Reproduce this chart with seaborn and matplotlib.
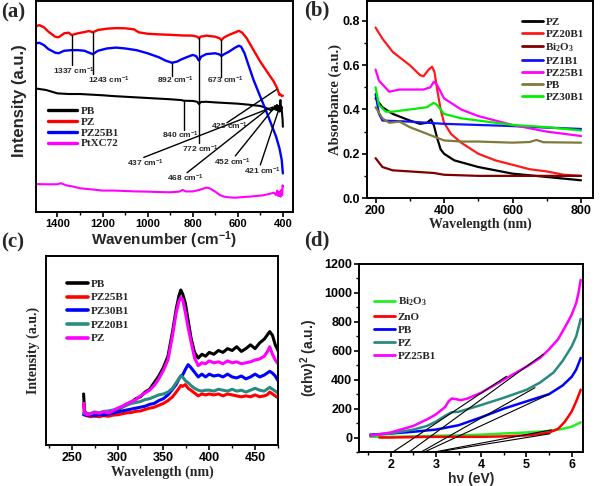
import numpy as np
import pandas as pd
import matplotlib
matplotlib.use("Agg")
import matplotlib.pyplot as plt
from matplotlib.ticker import MultipleLocator, NullLocator
import seaborn as sns

sns.set_style("ticks")
plt.rcParams["font.family"] = ["Liberation Sans", "DejaVu Sans"]
plt.rcParams["font.weight"] = "bold"
plt.rcParams["axes.labelweight"] = "bold"
plt.rcParams["mathtext.default"] = "regular"

SANS = "Liberation Sans"
SERIF = "Liberation Serif"

# ---------------- (a) FTIR ----------------
ftir_pz_x = [1500, 1480, 1460, 1440, 1410, 1395, 1370, 1350, 1337, 1310, 1280, 1260, 1243, 1220, 1180, 1140,
             1100, 1060, 1040, 1000, 950, 900, 850, 800, 780, 772, 765, 740, 700, 680, 673, 660, 640, 610,
             595, 580, 560, 530, 500, 470, 440, 425, 420, 415, 410, 405, 400]
ftir_pz_y = [88.3, 89.0, 88.0, 85.9, 83.5, 83.2, 85.1, 85.4, 84.3, 85.1, 85.7, 86.2, 85.6, 86.7, 87.3, 87.6,
             87.5, 87.0, 85.6, 84.9, 84.6, 84.4, 84.1, 84.0, 83.5, 82.7, 83.5, 84.0, 83.5, 82.7, 81.9, 83.2,
             84.3, 85.6, 86.3, 85.4, 82.7, 77.1, 71.6, 66.8, 62.1, 58.9, 57.3, 55.7, 56.0, 55.2, 55.4]
ftir_pz25_x = [1500, 1480, 1460, 1440, 1410, 1395, 1370, 1337, 1310, 1280, 1260, 1243, 1220, 1180, 1140, 1100,
               1050, 1000, 950, 920, 892, 870, 850, 820, 800, 785, 772, 762, 740, 700, 680, 673, 660, 640,
               610, 595, 585, 570, 550, 530, 500, 470, 450, 430, 415, 405, 400]
ftir_pz25_y = [80.3, 80.6, 79.5, 77.6, 75.9, 75.6, 76.8, 77.1, 77.1, 76.8, 75.9, 75.2, 76.8, 77.9, 78.3, 77.9,
               77.1, 75.6, 73.7, 72.1, 71.1, 71.6, 72.7, 74.0, 74.8, 74.3, 72.1, 74.0, 75.2, 75.6, 75.0, 74.3,
               75.2, 76.3, 78.4, 79.2, 78.7, 75.6, 69.2, 62.9, 54.9, 47.0, 41.4, 35.9, 30.3, 24.8, 18.4]
ftir_pb_x = [1500, 1450, 1400, 1350, 1300, 1250, 1200, 1150, 1100, 1050, 1000, 950, 900, 850, 840, 800, 780,
             772, 764, 740, 700, 650, 600, 550, 500, 480, 460, 450, 445, 440, 435, 430, 426, 422, 418, 414,
             411, 409, 406, 403, 401, 400]
ftir_pb_y = [58.9, 58.1, 56.5, 56.2, 56.2, 55.9, 55.6, 55.2, 54.9, 54.6, 54.3, 54.0, 53.7, 53.3, 53.0, 52.9,
             52.5, 51.4, 52.4, 52.5, 52.2, 51.9, 51.6, 51.1, 50.5, 49.8, 48.9, 48.3, 49.8, 48.9, 50.5, 48.6,
             51.0, 48.3, 50.5, 47.8, 53.3, 48.6, 50.2, 46.2, 43.8, 40.6]
ftir_pt_x = [1500, 1450, 1400, 1385, 1360, 1330, 1300, 1250, 1200, 1150, 1100, 1050, 1000, 950, 900, 860, 845,
             830, 800, 770, 740, 725, 700, 680, 660, 640, 610, 580, 550, 520, 490, 460, 440, 430, 425, 420,
             415, 410, 406, 403, 401, 400]
ftir_pt_y = [13.3, 13.2, 13.2, 13.7, 12.7, 12.1, 11.3, 10.8, 10.2, 10.2, 10.0, 9.8, 9.7, 9.5, 9.4, 9.7, 10.5,
             9.8, 9.8, 10.5, 11.6, 11.3, 9.7, 8.1, 7.3, 7.0, 6.8, 7.1, 7.3, 7.6, 7.9, 8.6, 9.2, 8.1, 10.2,
             7.6, 9.7, 7.3, 10.5, 8.1, 12.7, 12.1]
ftir_names = ["PB", "PZ", "PZ25B1", "PtXC72"]

# vertical peak markers: wavenumber, line top, line bottom, label x, label y
vpeak_wn = [1337, 1243, 892, 673, 840, 772]
vpeak_top = [84.3, 85.6, 71.1, 81.9, 53.0, 82.7]
vpeak_bot = [70.0, 65.7, 64.8, 64.1, 39.0, 32.7]
vpeak_lx = [1418, 1263, 958, 736, 938, 847]
vpeak_ly = [66.8, 62.9, 62.9, 62.9, 36.7, 30.0]
# slanted peak markers: label, label pos, line start, line end
speak_wn = [425, 437, 468, 452, 421]
speak_lx = [719, 1093, 913, 707, 574]
speak_ly = [41.0, 23.2, 16.0, 23.8, 19.2]
speak_x0 = [648, 1017, 825, 611, 500]
speak_y0 = [42.5, 26.0, 18.7, 26.7, 22.4]
speak_x1 = [427, 449, 463, 441, 415]
speak_y1 = [58.4, 49.8, 49.4, 49.4, 49.8]

# ---------------- (b) UV-vis absorbance ----------------
uv_pz_x = [200, 220, 250, 300, 330, 350, 362, 370, 380, 390, 400, 430, 500, 600, 700, 800]
uv_pz_y = [0.45, 0.41, 0.38, 0.35, 0.335, 0.34, 0.355, 0.33, 0.27, 0.22, 0.20, 0.17, 0.14, 0.11, 0.095, 0.08]
uv_pz20_x = [200, 220, 250, 300, 330, 340, 355, 365, 372, 380, 390, 400, 420, 450, 500, 550, 600, 650, 700, 750, 800]
uv_pz20_y = [0.77, 0.72, 0.66, 0.60, 0.555, 0.55, 0.58, 0.593, 0.57, 0.49, 0.40, 0.34, 0.29, 0.25, 0.20, 0.17,
             0.15, 0.13, 0.12, 0.105, 0.10]
uv_bi_x = [200, 220, 250, 300, 350, 370, 400, 500, 600, 700, 800]
uv_bi_y = [0.18, 0.14, 0.125, 0.12, 0.115, 0.113, 0.105, 0.10, 0.10, 0.10, 0.10]
uv_pz1_x = [200, 210, 220, 300, 400, 500, 600, 700, 800]
uv_pz1_y = [0.47, 0.38, 0.35, 0.345, 0.335, 0.33, 0.325, 0.318, 0.312]
uv_pz25_x = [200, 210, 240, 270, 300, 340, 360, 370, 380, 400, 450, 500, 600, 700, 800]
uv_pz25_y = [0.58, 0.53, 0.48, 0.49, 0.49, 0.49, 0.50, 0.525, 0.51, 0.45, 0.40, 0.37, 0.33, 0.30, 0.28]
uv_pb_x = [200, 220, 240, 270, 300, 350, 400, 450, 500, 600, 650, 670, 690, 800]
uv_pb_y = [0.41, 0.36, 0.34, 0.345, 0.32, 0.29, 0.26, 0.255, 0.255, 0.25, 0.253, 0.262, 0.252, 0.25]
uv_pz30_x = [200, 210, 230, 250, 300, 350, 370, 380, 400, 450, 500, 600, 700, 800]
uv_pz30_y = [0.50, 0.42, 0.39, 0.39, 0.40, 0.41, 0.43, 0.42, 0.38, 0.36, 0.35, 0.33, 0.32, 0.305]

# ---------------- (c) PL spectra ----------------
pl_x = [263, 264, 267, 270, 275, 280, 285, 290, 295, 300, 305, 310, 315, 320, 325, 330, 335, 340, 345, 350,
        355, 360, 364, 367, 369, 371, 374, 377, 380, 384, 388, 392, 396, 400, 405, 410, 415, 420, 425, 430,
        435, 440, 445, 450, 455, 460, 463, 466, 469, 472, 475, 478]
pl_pb = [27, 18, 16, 15.5, 16.5, 15.8, 16.8, 15.6, 17.5, 18.5, 20, 21.5, 22.5, 24.5, 25.5, 28, 29.5, 33,
         36.5, 41, 47, 60, 72, 79, 82, 80, 75, 66, 57, 49, 46, 48, 47, 49, 48, 50, 49, 51, 50, 52, 49.5, 51,
         53, 51, 54, 56, 58, 60, 58, 53, 50, 46]
pl_pz25 = [22, 16, 15.5, 15, 15.3, 15, 15.5, 15.2, 15.8, 16, 16.5, 17, 17.2, 17.8, 18, 18.8, 19.5, 20, 21,
           22, 23.5, 25.5, 28, 30, 31.5, 31, 32, 30, 29, 27.5, 26, 27, 26.5, 27, 26.5, 27, 26, 27, 26.5, 26,
           25.5, 26, 25.5, 26.5, 25.5, 26, 26.5, 28, 27, 26, 25, 26]
pl_pz30 = [16, 16, 15.5, 16, 15.5, 16.2, 15.8, 16.5, 16.8, 17.5, 18, 18.5, 19, 19.5, 20, 20.5, 21.5, 22,
           23.5, 24.5, 26.5, 29.5, 32, 35, 36.5, 37, 40, 42.5, 41, 38.5, 36, 37.5, 36, 37.5, 36.5, 37, 36,
           37.5, 36, 35.5, 36.5, 35, 36, 37.5, 36, 37, 38, 39, 38, 36.5, 34, 33]
pl_pz20 = [17, 16.5, 16.8, 16.5, 17.5, 17, 17.8, 18, 18.5, 19.2, 20, 21, 22, 22.5, 23, 24, 24.5, 25.5,
           26.5, 27, 28, 30, 33, 35, 36.5, 36, 34, 33, 31.5, 30, 29, 28.5, 29, 29, 28.5, 29.5, 29, 28.5,
           29.5, 28.5, 29, 28, 29, 30, 29, 28.5, 29.5, 30.5, 29.5, 28.5, 27.5, 25.5]
pl_pz = [22, 17, 16, 16.5, 17.2, 16.8, 17.5, 17, 18, 19.5, 20.5, 21.8, 23, 24, 26, 27.5, 29, 31.5, 35,
         39.5, 45, 58, 70, 76, 78, 77, 70, 62, 55, 46, 42, 43.5, 43, 44.5, 43.5, 44, 43, 44.5, 43.5, 44, 43,
         43.5, 44, 45, 45.5, 47, 49, 52, 48, 45, 43, 39]

# ---------------- (d) Tauc plot ----------------
tauc_bi_x = [1.55, 2.0, 2.5, 3.0, 3.5, 4.0, 4.5, 5.0, 5.5, 5.8, 6.0, 6.1, 6.2]
tauc_bi_y = [5, 5, 8, 12, 15, 20, 28, 35, 45, 60, 75, 90, 105]
tauc_zno_x = [1.75, 2.0, 2.5, 3.0, 3.5, 4.0, 4.5, 5.0, 5.3, 5.5, 5.7, 5.85, 6.0, 6.1, 6.2]
tauc_zno_y = [0, 0, 3, 5, 5, 5, 8, 15, 25, 35, 60, 110, 180, 250, 330]
tauc_pb_x = [1.55, 2.0, 2.5, 3.0, 3.5, 4.0, 4.5, 5.0, 5.5, 5.8, 6.0, 6.1, 6.2]
tauc_pb_y = [20, 28, 40, 55, 85, 140, 200, 250, 300, 360, 420, 470, 550]
tauc_pz_x = [1.55, 2.0, 2.5, 2.8, 3.0, 3.2, 3.35, 3.5, 4.0, 4.5, 5.0, 5.3, 5.6, 5.8, 6.0, 6.1, 6.2]
tauc_pz_y = [15, 28, 55, 80, 110, 150, 175, 178, 225, 275, 330, 380, 450, 530, 630, 700, 820]
tauc_pz25_x = [1.55, 2.0, 2.5, 2.8, 3.0, 3.2, 3.28, 3.35, 3.45, 3.55, 3.7, 4.0, 4.5, 5.0, 5.3, 5.5, 5.7,
               5.9, 6.0, 6.1, 6.15, 6.2]
tauc_pz25_y = [12, 35, 80, 125, 160, 210, 250, 270, 265, 258, 270, 310, 400, 490, 550, 610, 680, 790, 850,
               930, 1000, 1090]
tan_x0 = [2.04, 2.40, 2.66, 2.73, 2.93, 2.99]
tan_y0 = [-102, -102, -102, -102, -102, -102]
tan_x1 = [4.56, 5.37, 5.19, 5.48, 5.55, 5.52]
tan_y1 = [424, 576, 345, 296, 53, 26]

# ================= figure =================
W, H = 600, 486
fig = plt.figure(figsize=(6, 4.86), dpi=100)


def box(l, t, r, b):
    return [l / W, 1 - b / H, (r - l) / W, (b - t) / H]


axA = fig.add_axes(box(36, 1, 293, 212))
axB = fig.add_axes(box(367, 1, 593, 198))
axC = fig.add_axes(box(46, 256, 278, 445))
axD = fig.add_axes(box(359, 264, 583, 452))

for ax in (axA, axB, axC, axD):
    for s in ax.spines.values():
        s.set_linewidth(1.4)
        s.set_color("black")
    ax.tick_params(which="major", direction="out", length=3.5, width=1.2, pad=1.5, colors="black")
    ax.tick_params(which="minor", direction="out", length=2, width=1.0, colors="black")


def line(ax, x, y, color, lw=1.5, label=None):
    sns.lineplot(x=x, y=y, ax=ax, color=color, lw=lw, label=label, legend=False, sort=False,
                 estimator=None)


# ---- (a)
line(axA, ftir_pb_x, ftir_pb_y, "black", 1.5, "PB")
line(axA, ftir_pz_x, ftir_pz_y, "#ff0000", 1.7, "PZ")
line(axA, ftir_pz25_x, ftir_pz25_y, "#0000ff", 1.7, "PZ25B1")
line(axA, ftir_pt_x, ftir_pt_y, "#ff00ff", 1.5, "PtXC72")
axA.set_xlim(1495, 355)
axA.set_ylim(0, 100.5)
axA.xaxis.set_major_locator(MultipleLocator(200))
axA.xaxis.set_minor_locator(MultipleLocator(100))
axA.yaxis.set_major_locator(NullLocator())
axA.tick_params(axis="x", labelsize=8)
axA.set_xlabel("Wavenumber (cm$^{-1}$)", fontsize=11, family=SANS, fontweight="bold")
axA.set_ylabel("Intensity (a.u.)", fontsize=12, family=SANS, fontweight="bold")
axA.xaxis.set_label_coords(0.5, -0.083)
axA.yaxis.set_label_coords(-0.035, 0.53)
for wn, yt, yb, lx, ly in zip(vpeak_wn, vpeak_top, vpeak_bot, vpeak_lx, vpeak_ly):
    axA.plot([wn, wn], [yt, yb], color="black", lw=1.0)
    axA.text(lx, ly, f"{wn} cm$^{{-1}}$", fontsize=6, family=SANS, fontweight="bold", ha="left", va="center")
for wn, lx, ly, x0, y0, x1, y1 in zip(speak_wn, speak_lx, speak_ly, speak_x0, speak_y0, speak_x1, speak_y1):
    axA.plot([x0, x1], [y0, y1], color="black", lw=1.0)
    axA.text(lx, ly, f"{wn} cm$^{{-1}}$", fontsize=6, family=SANS, fontweight="bold", ha="left", va="center")
legA = axA.legend(loc="upper left", bbox_to_anchor=(48 / W, 1 - 106 / H), bbox_transform=fig.transFigure,
                  frameon=False, prop=dict(family=SERIF, weight="bold", size=8), handlelength=2.6,
                  handletextpad=0.35, labelspacing=0.1, borderaxespad=0, borderpad=0)
for l in legA.get_lines():
    l.set_linewidth(2.4)

# ---- (b)
line(axB, uv_pz_x, uv_pz_y, "black", 1.6, "PZ")
line(axB, uv_pz20_x, uv_pz20_y, "#ff1a1a", 1.6, "PZ20B1")
line(axB, uv_bi_x, uv_bi_y, "#800000", 1.6, "Bi$_2$O$_3$")
line(axB, uv_pz1_x, uv_pz1_y, "#1010ff", 1.6, "PZ1B1")
line(axB, uv_pz25_x, uv_pz25_y, "#ff00ff", 1.6, "PZ25B1")
line(axB, uv_pb_x, uv_pb_y, "#7f7a3a", 1.6, "PB")
line(axB, uv_pz30_x, uv_pz30_y, "#00ee00", 1.6, "PZ30B1")
axB.set_xlim(175, 835)
axB.set_ylim(0, 0.89)
axB.xaxis.set_major_locator(MultipleLocator(200))
axB.xaxis.set_minor_locator(MultipleLocator(100))
axB.yaxis.set_major_locator(MultipleLocator(0.2))
axB.yaxis.set_minor_locator(MultipleLocator(0.1))
axB.yaxis.set_major_formatter(matplotlib.ticker.FormatStrFormatter("%.1f"))
axB.tick_params(labelsize=9)
axB.set_xlabel("Wavelength (nm)", fontsize=10, family=SERIF, fontweight="bold")
axB.set_ylabel("Absorbance (a.u.)", fontsize=10.5, family=SERIF, fontweight="bold")
axB.xaxis.set_label_coords(0.5, -0.1)
axB.yaxis.set_label_coords(-0.11, 0.5)
legB = axB.legend(loc="upper left", bbox_to_anchor=(522 / W, 1 - 17 / H), bbox_transform=fig.transFigure,
                  frameon=False, prop=dict(family=SERIF, weight="bold", size=8), handlelength=1.9,
                  handletextpad=0.2, labelspacing=0.2, borderaxespad=0, borderpad=0)
for l in legB.get_lines():
    l.set_linewidth(2.0)

# ---- (c)
line(axC, pl_x, pl_pb, "black", 2.2, "PB")
line(axC, pl_x, pl_pz25, "#ff0000", 2.2, "PZ25B1")
line(axC, pl_x, pl_pz30, "#0000ff", 2.2, "PZ30B1")
line(axC, pl_x, pl_pz20, "#2a8a80", 2.2, "PZ20B1")
line(axC, pl_x, pl_pz, "#ff00ff", 2.2, "PZ")
axC.set_xlim(222, 475)
axC.set_ylim(0, 100)
axC.xaxis.set_major_locator(MultipleLocator(50))
axC.xaxis.set_minor_locator(MultipleLocator(25))
axC.yaxis.set_major_locator(NullLocator())
axC.tick_params(axis="x", labelsize=9)
axC.set_xlabel("Wavelength (nm)", fontsize=10, family=SERIF, fontweight="bold")
axC.set_ylabel("Intensity (a.u.)", fontsize=10, family=SERIF, fontweight="bold")
axC.xaxis.set_label_coords(0.5, -0.11)
axC.yaxis.set_label_coords(-0.026, 0.5)
legC = axC.legend(loc="upper left", bbox_to_anchor=(67 / W, 1 - 279 / H), bbox_transform=fig.transFigure,
                  frameon=False, prop=dict(family=SERIF, weight="bold", size=8), handlelength=1.9,
                  handletextpad=0.2, labelspacing=0.35, borderaxespad=0, borderpad=0)
for l in legC.get_lines():
    l.set_linewidth(2.6)

# ---- (d)
line(axD, tauc_bi_x, tauc_bi_y, "#22ee22", 1.8, "Bi$_2$O$_3$")
line(axD, tauc_zno_x, tauc_zno_y, "#ff0000", 1.8, "ZnO")
line(axD, tauc_pb_x, tauc_pb_y, "#0000ff", 1.8, "PB")
line(axD, tauc_pz_x, tauc_pz_y, "#2a8a80", 1.8, "PZ")
line(axD, tauc_pz25_x, tauc_pz25_y, "#ff00ff", 1.8, "PZ25B1")
for x0, y0, x1, y1 in zip(tan_x0, tan_y0, tan_x1, tan_y1):
    sns.lineplot(x=[x0, x1], y=[y0, y1], ax=axD, color="black", lw=0.8, legend=False, sort=False,
                 estimator=None)
axD.set_xlim(1.3, 6.25)
axD.set_ylim(-100, 1200)
axD.xaxis.set_major_locator(MultipleLocator(1))
axD.xaxis.set_minor_locator(MultipleLocator(0.5))
axD.yaxis.set_major_locator(MultipleLocator(200))
axD.yaxis.set_minor_locator(MultipleLocator(100))
axD.tick_params(labelsize=9)
axD.set_xlabel("h\u03bd (eV)", fontsize=10, family=SANS, fontweight="bold")
axD.set_ylabel("(\u03b1h\u03bd)$^2$ (a.u.)", fontsize=10, family=SANS, fontweight="bold")
axD.xaxis.set_label_coords(0.5, -0.105)
axD.yaxis.set_label_coords(-0.174, 0.5)
legD = axD.legend(loc="upper left", bbox_to_anchor=(374 / W, 1 - 296 / H), bbox_transform=fig.transFigure,
                  frameon=False, prop=dict(family=SERIF, weight="bold", size=8), handlelength=1.9,
                  handletextpad=0.25, labelspacing=0.3, borderaxespad=0, borderpad=0)
for l in legD.get_lines():
    l.set_linewidth(2.0)

for ax in (axA, axB, axC, axD):
    for lab in ax.get_xticklabels() + ax.get_yticklabels():
        lab.set_fontfamily(SANS)
        lab.set_fontweight("bold")

# panel labels
for txt, px, py in [("(a)", 1, 12), ("(b)", 304, 10), ("(c)", 1, 242), ("(d)", 304, 240)]:
    fig.text(px / W, 1 - py / H, txt, fontsize=15, family=SERIF, fontweight="bold", ha="left", va="center")

fig.savefig("out.png", dpi=100)
